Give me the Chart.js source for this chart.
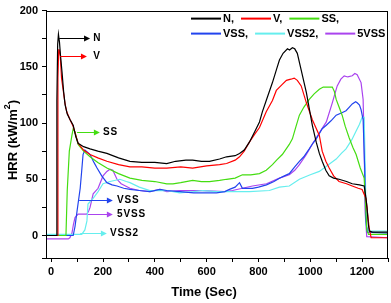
<!DOCTYPE html>
<html>
<head>
<meta charset="utf-8">
<script src="https://cdn.jsdelivr.net/npm/chart.js"></script>
<style>
  html, body { margin: 0; padding: 0; background: #fff; }
  #wrap { width: 391px; height: 303px; }
</style>
</head>
<body>
<div id="wrap"><canvas id="myChart" width="391" height="303"></canvas></div>
<script>
// series: time (s) and HRR (kW/m2)
const nT = [-20,20,22,25,28,32,36,42,48,54,62,73,85,95,104,125,150,180,215,260,304,350,400,446,480,520,546,580,611,650,677,710,727,745,765,785,804,815,830,854,870,881,895,912,920,931,940,950,965,985,1008,1023,1035,1046,1060,1073,1090,1111,1140,1162,1190,1208,1214,1219,1224,1228,1240,1300];
const nY = [0,0,120,170,179,172,160,145,128,116,108,103,98,88,82,79,77,75,73,69,66,65,65,64,66,67,67,66,66,68,70,71,73,76,83,92,101,110,120,136,148,156,162,166,165,167,166,162,147,127,98,83,73,66,58,53,51,50,48,46,45,44,35,25,10,4,3,3];

const vT = [-20,24,26,29,31,35,40,46,53,60,73,85,104,125,150,180,215,260,304,350,400,446,500,546,600,650,677,710,727,745,765,785,804,830,854,869,890,908,925,938,950,965,985,1008,1035,1046,1060,1073,1090,1111,1140,1162,1185,1200,1215,1222,1227,1235,1300];
const vY = [0,0,140,165,165,160,140,130,118,110,103,97,82,76,72,69,66,63,61,61,60,60,61,60,62,63,64,67,70,75,83,90,96,110,120,129,134,138,139,140,138,133,118,103,89,75,66,60,53,48,46,44,42,41,33,18,7,-2,-2];

const ssT = [-20,57,62,70,80,85,92,104,125,150,180,215,260,304,350,400,446,470,500,546,580,611,650,677,710,738,770,804,830,854,870,892,919,931,945,958,975,996,1015,1035,1050,1062,1085,1093,1100,1110,1123,1135,1150,1165,1177,1193,1208,1213,1218,1225,1300];
const ssY = [0,0,40,75,89,95,92,81,75,70,65,60,55,51,49,48,46,46,47,49,48,48,49,50,51,54,54,55,58,63,67,72,81,86,97,107,114,121,126,130,132,132,132,128,121,115,107,97,87,78,72,60,51,30,5,1,1];

const vssT = [-20,85,92,100,112,118,123,130,140,150,165,177,195,215,235,254,280,304,340,381,420,446,496,550,585,638,670,688,710,727,738,760,777,800,831,860,881,900,919,940,958,975,996,1010,1023,1046,1062,1080,1100,1120,1138,1150,1162,1175,1181,1190,1196,1204,1210,1214,1220,1300];
const vssY = [0,0,8,22,42,58,72,76,74,72,65,60,53,47,45,44,42,41,40,39,41,40,39,38,38,38,39,41,43,47,42,42,42,43,45,48,51,53,55,61,66,70,77,82,86,95,98,102,107,109,111,114,117,119,118,116,112,103,60,15,3,2];

const vss2T = [-20,118,130,138,142,150,162,181,200,227,265,290,304,340,381,446,496,550,585,640,688,765,842,881,919,958,1000,1035,1070,1100,1120,1138,1160,1177,1190,1200,1208,1212,1216,1225,1300];
const vss2Y = [1,1,5,13,28,30,33,39,46,48,50,48,47,43,40,40,38,39,40,39,39,39,40,43,44,50,54,57,63,68,73,77,85,93,99,105,105,60,8,4,4];

const v5T = [-20,66,72,80,86,92,104,120,138,145,150,162,181,200,215,227,238,246,254,270,304,340,381,419,446,496,585,669,700,738,777,831,881,919,940,958,985,1010,1040,1062,1085,1095,1104,1118,1131,1145,1162,1172,1181,1196,1204,1208,1212,1218,1300];
const v5Y = [-3,-3,-2,2,10,16,19,19,19,22,25,37,42,53,57,59,58,54,50,46,42,40,39,41,39,40,40,39,40,42,44,46,51,54,58,63,72,82,93,101,118,126,133,139,142,141,142,144,143,136,121,80,20,-1,-2];

const seriesNames = ['N', 'V', 'SS', 'VSS', 'VSS2', '5VSS'];
const legendText = [['N,', 'V,', 'SS,'], ['VSS,', 'VSS2,', '5VSS']];
const seriesColors = ['#000000', '#ff0000', '#44dd11', '#2244ee', '#66eeee', '#aa44ee'];

const xTicks = [0,100,200,300,400,500,600,700,800,900,1000,1100,1200,1300];
const yTicks = [-20,0,25,50,75,100,125,150,175,200];

// in-plot arrow labels (series, y, arrow start, arrow end, text x)
const arrowSeries = ['N', 'V', 'SS', 'VSS', '5VSS', 'VSS2'];
const arrowY = [176, 160, 92, 32, 19, 2];
const arrowX0 = [31, 35, 100, 108, 142, 112];
const arrowX1 = [150, 138, 188, 238, 238, 215];
const arrowTextX = [162, 162, 200, 254, 254, 227];

function pts(t, y) { return t.map((v, i) => ({x: v, y: y[i]})); }
const allData = [pts(nT, nY), pts(vT, vY), pts(ssT, ssY), pts(vssT, vssY), pts(vss2T, vss2Y), pts(v5T, v5Y)];

const FONT = '"Liberation Sans", Arial, sans-serif';

const arrowPlugin = {
  id: 'arrows',
  afterDatasetsDraw(chart) {
    const ctx = chart.ctx, xs = chart.scales.x, ys = chart.scales.y;
    ctx.save();
    arrowSeries.forEach((name, i) => {
      const col = seriesColors[seriesNames.indexOf(name)];
      const yy = Math.round(ys.getPixelForValue(arrowY[i])) + 0.5;
      const x0 = xs.getPixelForValue(arrowX0[i]);
      const x1 = xs.getPixelForValue(arrowX1[i]);
      ctx.strokeStyle = col; ctx.fillStyle = col; ctx.lineWidth = 1;
      ctx.beginPath(); ctx.moveTo(x0, yy); ctx.lineTo(x1 - 4, yy); ctx.stroke();
      ctx.beginPath(); ctx.moveTo(x1, yy); ctx.lineTo(x1 - 6, yy - 3); ctx.lineTo(x1 - 6, yy + 3); ctx.closePath(); ctx.fill();
      ctx.fillStyle = '#000';
      ctx.font = 'bold 10px ' + FONT;
      ctx.textBaseline = 'middle'; ctx.textAlign = 'left';
      ctx.fillText(name.split('').join('\u200A'), xs.getPixelForValue(arrowTextX[i]), yy);
    });
    ctx.restore();
  },
  afterDraw(chart) {
    const ctx = chart.ctx, area = chart.chartArea;
    ctx.save();
    // legend inside the frame, two rows
    ctx.font = 'bold 11px ' + FONT;
    ctx.textBaseline = 'middle'; ctx.textAlign = 'left';
    let k = 0;
    legendText.forEach((row, r) => {
      let x = area.left + 145;
      const y = area.top + 8 + r * 15;
      row.forEach(txt => {
        ctx.strokeStyle = seriesColors[k]; ctx.lineWidth = 2;
        ctx.beginPath(); ctx.moveTo(x, y); ctx.lineTo(x + 30, y); ctx.stroke();
        ctx.fillStyle = '#000';
        ctx.fillText(txt, x + 32, y);
        x += 32 + ctx.measureText(txt).width + 7;
        k++;
      });
    });
    // axis titles
    ctx.fillStyle = '#000';
    ctx.font = 'bold 13px ' + FONT;
    ctx.textAlign = 'center';
    ctx.fillText('Time (Sec)', 204, 292);
    ctx.translate(13, 140);
    ctx.rotate(-Math.PI / 2);
    const a = 'HRR (kW/m', b = ')';
    ctx.font = 'bold 13px ' + FONT;
    const wa = ctx.measureText(a).width, wb = ctx.measureText(b).width;
    ctx.font = 'bold 9px ' + FONT;
    const ws = ctx.measureText('2').width;
    let x = -(wa + ws + wb) / 2;
    ctx.textAlign = 'left';
    ctx.font = 'bold 13px ' + FONT;
    ctx.fillText(a, x, 0);
    ctx.font = 'bold 9px ' + FONT;
    ctx.fillText('2', x + wa, -5);
    ctx.font = 'bold 13px ' + FONT;
    ctx.fillText(b, x + wa + ws, 0);
    ctx.restore();
  }
};

const config = {
  type: 'line',
  data: {
    datasets: seriesNames.map((n, i) => ({
      label: n,
      data: allData[i],
      borderColor: seriesColors[i],
      borderWidth: 1.2,
      pointRadius: 0,
      fill: false,
      tension: 0
    }))
  },
  options: {
    responsive: false,
    animation: false,
    layout: { padding: { top: 7, right: 2, left: 0, bottom: 0 } },
    plugins: { legend: { display: false }, tooltip: { enabled: false } },
    scales: {
      x: {
        type: 'linear', min: -20, max: 1300,
        afterBuildTicks: s => { s.ticks = xTicks.map(v => ({value: v})); },
        afterFit: s => { s.height = 45; },
        border: { display: true, color: '#000', width: 1 },
        grid: { drawOnChartArea: false, color: '#000', tickLength: 4 },
        ticks: {
          color: '#000', padding: 3, maxRotation: 0, autoSkip: false,
          font: { family: FONT, size: 11, weight: 'bold' },
          callback: v => (v % 200 === 0 && v <= 1200) ? String(v) : ''
        }
      },
      y: {
        min: -20, max: 200,
        afterBuildTicks: s => { s.ticks = yTicks.map(v => ({value: v})); },
        afterFit: s => { s.width = 46; },
        border: { display: true, color: '#000', width: 1 },
        grid: { drawOnChartArea: false, color: '#000', tickLength: 4 },
        ticks: {
          color: '#000', padding: 4, autoSkip: false,
          font: { family: FONT, size: 11, weight: 'bold' },
          callback: v => (v % 50 === 0) ? String(v) : ''
        }
      }
    }
  },
  plugins: [arrowPlugin, {
    id: 'frame',
    afterDraw(chart) {
      const a = chart.chartArea, ctx = chart.ctx;
      ctx.save(); ctx.strokeStyle = '#000'; ctx.lineWidth = 1;
      ctx.strokeRect(Math.round(a.left) + 0.5, Math.round(a.top) + 0.5, Math.round(a.right - a.left) - 1, Math.round(a.bottom - a.top));
      ctx.restore();
    }
  }]
};

var myChart = new Chart(document.getElementById('myChart'), config);
</script>
</body>
</html>
